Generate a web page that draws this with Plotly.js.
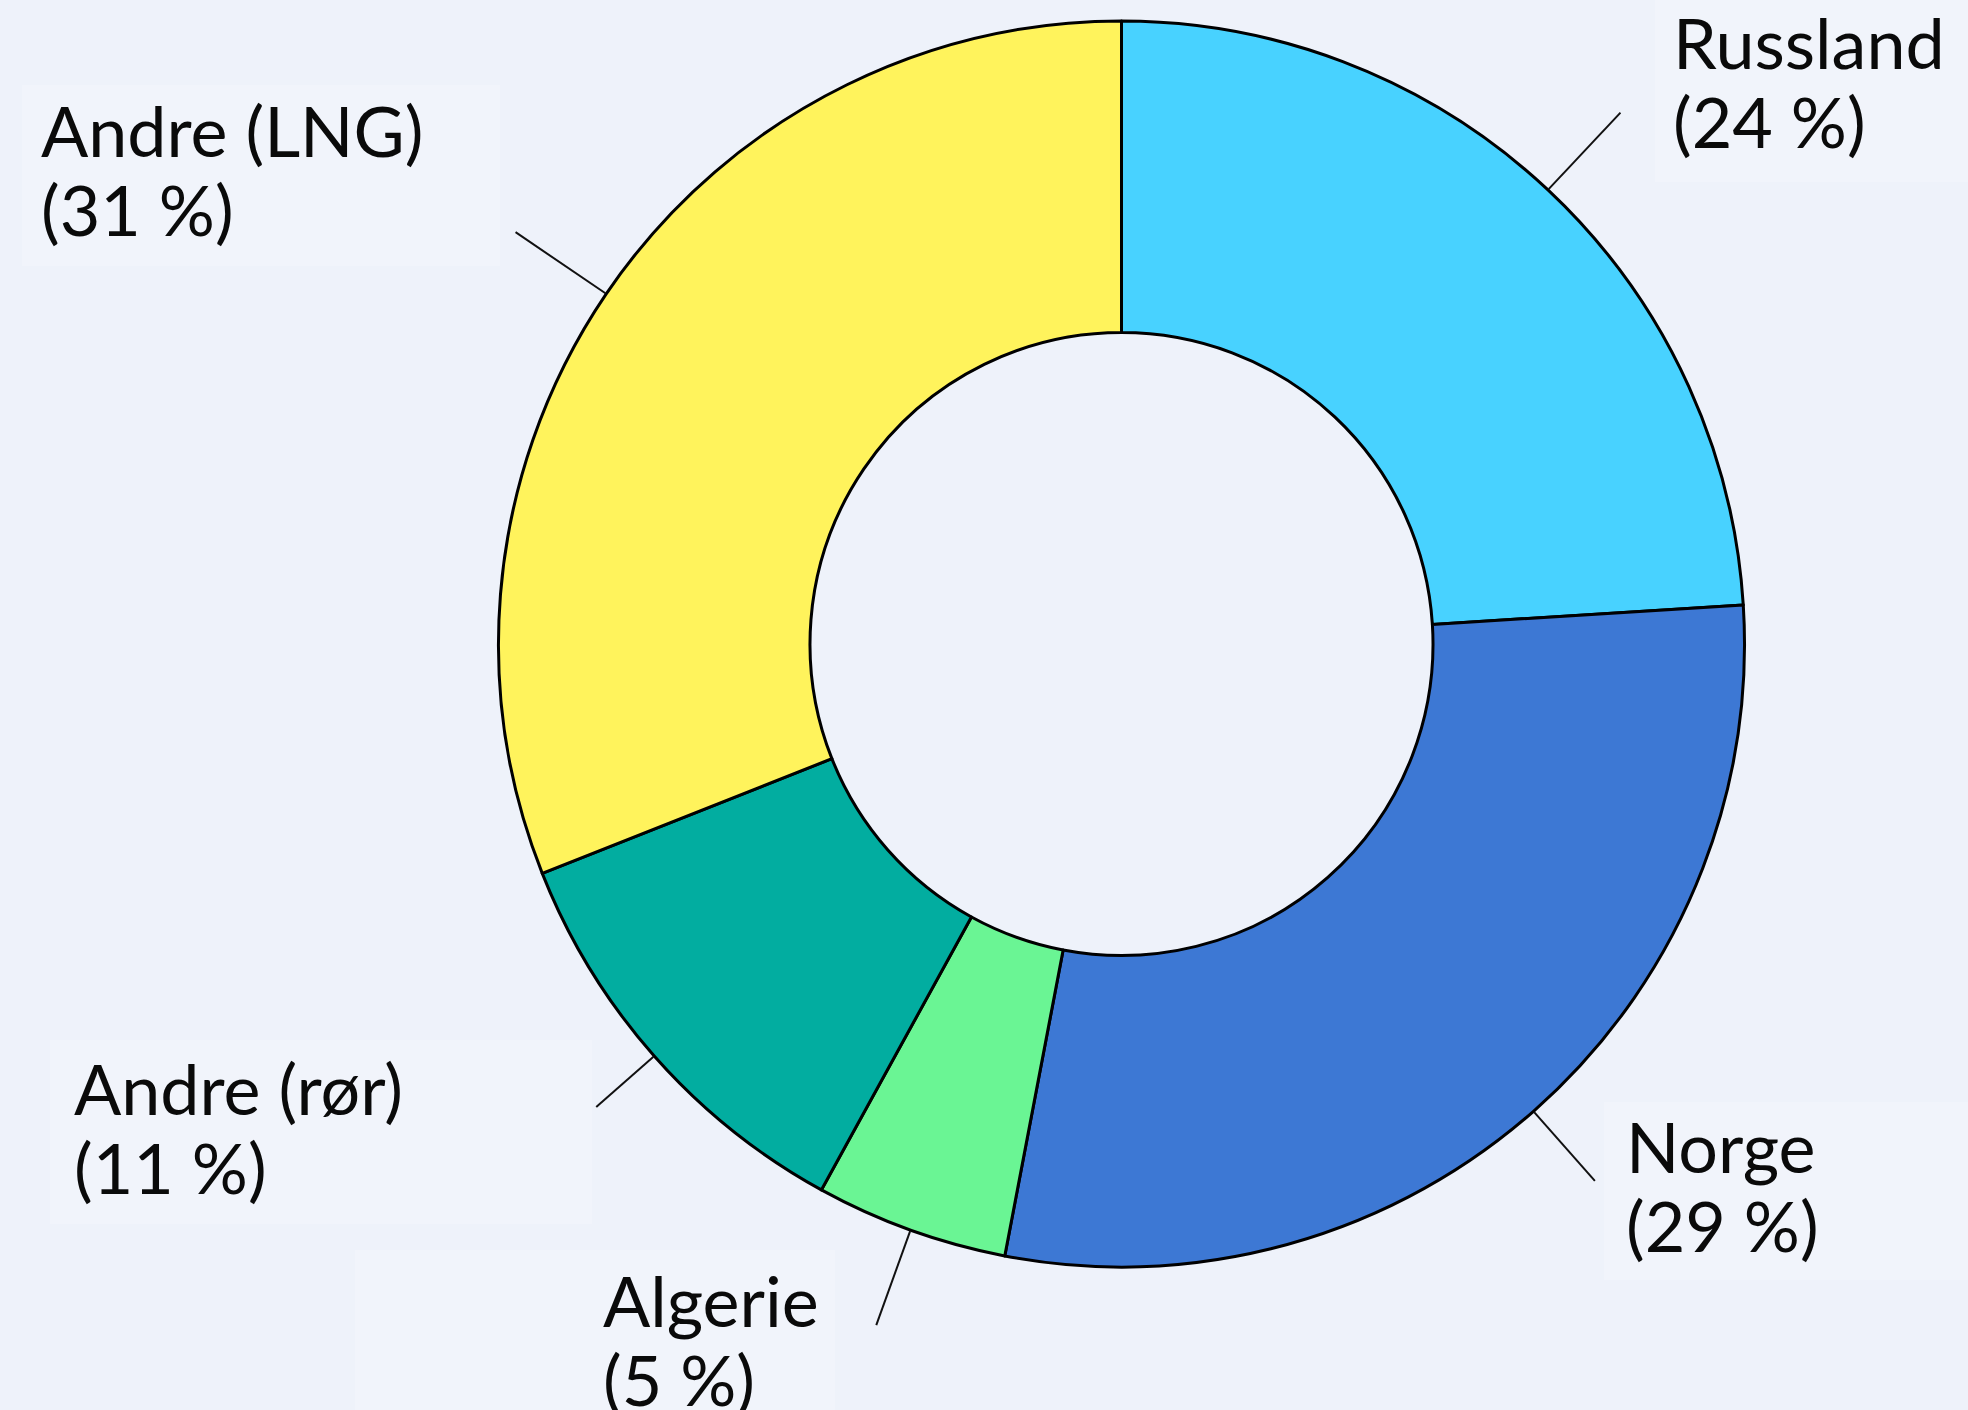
<!DOCTYPE html>
<html>
<head>
<meta charset="utf-8">
<script src="https://cdn.plot.ly/plotly-3.0.1.min.js"></script>
<style>
  html, body { margin: 0; padding: 0; background: #EEF2FA; }
  #chart { width: 1968px; height: 1410px; }
</style>
</head>
<body>
<div id="chart"></div>
<script>
// ---- data ----
const countries   = ['Russland', 'Norge', 'Algerie', 'Andre (rør)', 'Andre (LNG)'];
const shares      = [24, 29, 5, 11, 31];   // percent
const sliceColors = ['#48D2FF', '#3D78D4', '#6AF594', '#02ADA0', '#FFF35C'];

// ---- layout config ----
const W = 1968, H = 1410;
const CX = 1121.5, CY = 644, R = 623;
const FS = 70, LINE_GAP = 79;
const labelPlacement = [
  { x: 1672, base: 69,   lineEnd: 1.170, box: [1655, 0, 1968, 182] },
  { x: 1625, base: 1173, lineEnd: 1.149, box: [1604, 1102, 1968, 1280] },
  { x: 602,  base: 1327, lineEnd: 1.162, box: [355, 1250, 835, 1410] },
  { x: 73,   base: 1115, lineEnd: 1.124, box: [50, 1040, 592, 1224] },
  { x: 40,   base: 157,  lineEnd: 1.176, box: [22, 85, 500, 266] }
];

const px = v => v / W;
const py = v => 1 - v / H;

const trace = {
  type: 'pie',
  labels: countries,
  values: shares,
  sort: false,
  direction: 'clockwise',
  rotation: 0,
  hole: 0.5,
  textinfo: 'none',
  hoverinfo: 'label+percent',
  marker: { colors: sliceColors, line: { color: '#000000', width: 3 } },
  domain: {
    x: [CX / W - 0.33, CX / W + 0.33],
    y: [1 - CY / H - R / H, 1 - CY / H + R / H]
  },
  showlegend: false
};

const shapes = [];
const annotations = [];
const total = shares.reduce((a, b) => a + b, 0);
let cum = 0;
shares.forEach((s, i) => {
  const mid = (cum + s / 2) / total;
  cum += s;
  const ang = mid * 2 * Math.PI;
  const p = labelPlacement[i];
  const b = p.box;
  shapes.push({
    type: 'rect', xref: 'paper', yref: 'paper', layer: 'below',
    x0: px(b[0]), x1: px(b[2]), y0: py(b[3]), y1: py(b[1]),
    fillcolor: 'rgb(241,244,251)', line: { width: 0 }
  });
  const r0 = R + 1, r1 = R * p.lineEnd;
  shapes.push({
    type: 'line', xref: 'paper', yref: 'paper',
    x0: px(CX + r0 * Math.sin(ang)), y0: py(CY - r0 * Math.cos(ang)),
    x1: px(CX + r1 * Math.sin(ang)), y1: py(CY - r1 * Math.cos(ang)),
    line: { color: '#111111', width: 2 }
  });
  const lines = [countries[i], '(' + s + '\u00A0%)'];
  lines.forEach((t, k) => {
    annotations.push({
      xref: 'paper', yref: 'paper', showarrow: false,
      x: px(p.x), xanchor: 'left',
      y: py(p.base + k * LINE_GAP - 0.387 * FS), yanchor: 'middle',
      text: t, borderpad: 0,
      font: { family: 'Lato, "Open Sans", sans-serif', size: FS, color: '#0a0a0a' }
    });
  });
});

const layout = {
  width: W, height: H,
  margin: { l: 0, r: 0, t: 0, b: 0 },
  paper_bgcolor: '#EEF2FA',
  plot_bgcolor: '#EEF2FA',
  shapes: shapes,
  annotations: annotations
};

Plotly.newPlot('chart', [trace], layout, { displayModeBar: false, staticPlot: true });
</script>
</body>
</html>
